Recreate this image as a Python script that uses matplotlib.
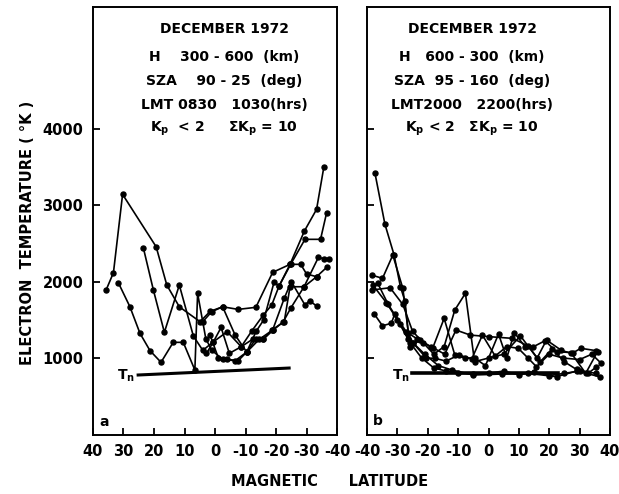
import matplotlib
matplotlib.use("Agg")
import matplotlib.pyplot as plt

# panel a: 300-600 km, morning passes (magnetic latitude, electron temperature K)
a_lat = [
    [35.7, 33.3, 30.3, 19.3, 15.8, 11.7, 4.9, 1.6, -2.5, -7.6, -13.4, -18.9, -24.6, -29.3, -33.3, -35.7],
    [23.5, 20.2, 16.6, 11.7, 7.1, 4.0, 0.5, -4.0, -8.6, -12.5, -15.8, -18.6, -22.7, -24.6, -29.2, -33.9, -35.6, -37.5],
    [31.7, 27.9, 24.6, 21.3, 17.7, 13.7, 10.4, 6.6, 5.7, 3.0, 1.0, -2.5, -6.6, -10.4, -13.5, -16.0, -19.4, -21.0, -24.8, -29.5, -34.6, -36.6],
    [4.0, 1.1, -2.5, -6.6, -10.4, -13.4, -15.8, -19.1, -22.4, -24.8, -29.2, -33.3, -36.6],
    [2.8, 0.5, -2.0, -4.7, -8.6, -12.0, -15.8, -18.6, -21.0, -24.6, -28.1, -30.0, -33.3],
    [1.6, -1.1, -4.0, -7.6, -10.4, -14.5, -18.9, -22.7, -25.0, -29.5, -31.0, -33.3],
]
a_te = [
    [1890, 2115, 3140, 2455, 1954, 1670, 1475, 1610, 1670, 1636, 1663, 2120, 2225, 2660, 2944, 3500],
    [2442, 1889, 1336, 1954, 1288, 1100, 1213, 1344, 1148, 1250, 1244, 1366, 1475, 1932, 1932, 2316, 2300, 2300],
    [1985, 1671, 1323, 1096, 944, 1205, 1205, 843, 1845, 1250, 1100, 983, 965, 1078, 1350, 1500, 1997, 1941, 2225, 2552, 2552, 2900],
    [1475, 1605, 1670, 1300, 1078, 1250, 1244, 1366, 1475, 1650, 1932, 2063, 2185],
    [1061, 1213, 1400, 1061, 1148, 1350, 1560, 1693, 1941, 2225, 2225, 2100, 2063],
    [1300, 1000, 983, 965, 1078, 1244, 1366, 1780, 2000, 1693, 1750, 1680],
]

# panel b: 600-300 km, evening passes
b_lat = [
    [-37.4, -34.1, -31.1, -29.0, -27.5, -26.4, -24.9, -21.0, -16.5, -12.0, -5.0, 4.6, 13.0, 22.4, 29.0, 36.6],
    [-38.5, -34.9, -31.5, -28.2, -25.8, -22.5, -18.4, -14.6, -11.1, -7.6, -4.4, -1.0, 3.3, 6.0, 8.5, 12.0, 14.8, 18.6, 22.4, 27.9, 30.4, 35.5],
    [-38.5, -32.4, -28.2, -25.0, -21.5, -18.0, -14.6, -11.1, -7.6, -4.6, 0.0, 5.0, 10.5, 16.0, 19.1, 24.0, 27.3, 32.0, 35.9],
    [-37.6, -34.9, -32.0, -30.9, -27.1, -23.5, -19.0, -14.4, -10.7, -6.0, 0.0, 7.9, 13.1, 17.0, 21.0, 25.0, 29.0, 32.8, 35.4],
    [-38.0, -33.6, -30.0, -26.5, -24.9, -20.5, -17.6, -14.0, -9.8, -5.5, -2.0, 2.2, 6.0, 9.8, 13.0, 15.8, 20.0, 24.5, 30.0, 34.0, 36.9],
    [-36.5, -33.0, -29.0, -25.8, -22.0, -18.0, -14.0, -10.0, -5.0, 0.0, 5.0, 10.0, 15.0, 20.0, 25.0, 30.0, 35.5],
]
b_te = [
    [3422, 2750, 2350, 1932, 1745, 1323, 1200, 1050, 900, 843, 778, 791, 800, 756, 830, 756],
    [2085, 2042, 2346, 1911, 1148, 1235, 1127, 1519, 1040, 1000, 996, 900, 1314, 1000, 1331, 1150, 1148, 1226, 1083, 1070, 1127, 1096],
    [1889, 1919, 1700, 1350, 1200, 1050, 1150, 1627, 1846, 952, 1000, 1050, 1290, 1000, 1235, 1100, 1061, 800, 1083],
    [1575, 1422, 1454, 1571, 1344, 1250, 1150, 1050, 1366, 1300, 1280, 1257, 1157, 950, 1120, 950, 850, 800, 880],
    [1950, 1723, 1500, 1250, 1200, 1000, 996, 960, 1039, 990, 1300, 1026, 1150, 1127, 1000, 886, 1050, 1000, 980, 1050, 939],
    [1980, 1700, 1450, 1200, 1000, 870, 830, 800, 790, 800, 830, 780, 820, 770, 800, 830, 800],
]

# neutral temperature lines
tn_a_lat = [25.2, -24.3]
tn_a = [778, 869]
tn_b_lat = [-25.2, 23.0]
tn_b = [804, 804]

yticks = [1000, 2000, 3000, 4000]
xticks_a = [40, 30, 20, 10, 0, -10, -20, -30, -40]
xticks_b = [-40, -30, -20, -10, 0, 10, 20, 30, 40]

text_a = ["DECEMBER 1972", "H    300 - 600  (km)", "SZA    90 - 25  (deg)",
          "LMT 0830   1030(hrs)", r"K$_\mathbf{p}$  < 2     ΣK$_\mathbf{p}$ = 10"]
text_b = ["DECEMBER 1972", "H   600 - 300  (km)", "SZA  95 - 160  (deg)",
          "LMT2000   2200(hrs)", r"K$_\mathbf{p}$ < 2   ΣK$_\mathbf{p}$ = 10"]

W, H = 619, 494
fig = plt.figure(figsize=(W / 100, H / 100), dpi=100)
ax_a = fig.add_axes([93 / W, 1 - 434.5 / H, 244 / W, 427.5 / H])
ax_b = fig.add_axes([367 / W, 1 - 434.5 / H, 243 / W, 427.5 / H])

for ax, lats, tes, xt in [(ax_a, a_lat, a_te, xticks_a), (ax_b, b_lat, b_te, xticks_b)]:
    for la, te in zip(lats, tes):
        ax.plot(la, te, color='black', lw=1.2, marker='o', ms=3.6)
    ax.set_ylim(0, 5590)
    ax.set_xlim(xt[0], xt[-1])
    ax.set_xticks(xt)
    ax.set_xticklabels([str(v) for v in xt], fontweight='bold', fontsize=10.5)
    ax.set_yticks(yticks)
    ax.tick_params(direction='in', length=5, width=1.3, pad=7)
    for s in ax.spines.values():
        s.set_linewidth(1.4)

ax_a.set_yticklabels([str(v) for v in yticks], fontweight='bold', fontsize=10.5)
ax_b.set_yticklabels([])

ax_a.plot(tn_a_lat, tn_a, color='black', lw=2.2)
ax_b.plot(tn_b_lat, tn_b, color='black', lw=2.6)

ys = [29, 57, 81, 105, 129]
for s, y in zip(text_a, ys):
    fig.text(224 / W, 1 - y / H, s, ha='center', va='center', fontsize=10, fontweight='bold')
for s, y in zip(text_b, ys):
    fig.text(472 / W, 1 - y / H, s, ha='center', va='center', fontsize=10, fontweight='bold')

fig.text(126 / W, 1 - 376 / H, r"T$_\mathbf{n}$", ha='center', va='center', fontsize=10, fontweight='bold')
fig.text(401 / W, 1 - 376 / H, r"T$_\mathbf{n}$", ha='center', va='center', fontsize=10, fontweight='bold')
fig.text(104 / W, 1 - 422 / H, "a", ha='center', va='center', fontsize=10, fontweight='bold')
fig.text(378 / W, 1 - 421 / H, "b", ha='center', va='center', fontsize=10, fontweight='bold')

fig.text(27 / W, 1 - 233 / H, "ELECTRON  TEMPERATURE ( °K )", rotation=90,
         ha='center', va='center', fontsize=10.5, fontweight='bold')
fig.text(330 / W, 1 - 481 / H, "MAGNETIC      LATITUDE", ha='center', va='center',
         fontsize=10.5, fontweight='bold')

fig.savefig("out.png", dpi=100)
